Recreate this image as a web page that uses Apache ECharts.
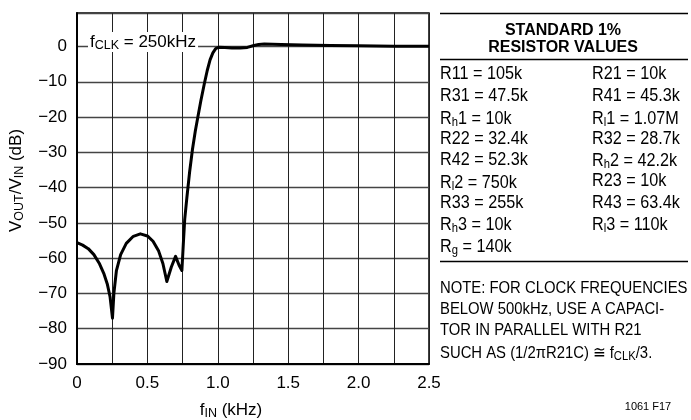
<!DOCTYPE html>
<html>
<head>
<meta charset="utf-8">
<script src="https://cdn.jsdelivr.net/npm/echarts@6/dist/echarts.min.js"></script>
<style>
html,body{margin:0;padding:0;background:#fff;}
#main{width:691px;height:420px;}
</style>
</head>
<body>
<div id="main"></div>
<script>
// ---- data ----
var freqKHz = [0, 0.04, 0.08, 0.12, 0.16, 0.19, 0.215, 0.235, 0.252, 0.262, 0.28, 0.31, 0.35, 0.40, 0.45, 0.50, 0.54, 0.58, 0.61, 0.638, 0.67, 0.70, 0.725, 0.745, 0.755, 0.765, 0.78, 0.80, 0.82, 0.84, 0.86, 0.88, 0.905, 0.925, 0.945, 0.965, 0.985, 1.005, 1.05, 1.10, 1.16, 1.21, 1.25, 1.29, 1.33, 1.45, 1.6, 1.8, 2.0, 2.25, 2.5];
var gainDB  = [-55.6, -56.3, -57.3, -59.0, -61.6, -64.3, -67.3, -71, -77, -70, -63.5, -59.0, -55.8, -53.8, -53.1, -53.7, -55.2, -58.0, -61.5, -66.6, -62.5, -59.5, -62, -63.5, -56, -49, -43, -35.5, -29.2, -24, -19.6, -15.3, -10.4, -6.8, -3.8, -1.8, -0.6, -0.2, -0.25, -0.4, -0.45, -0.25, 0.2, 0.6, 0.7, 0.6, 0.45, 0.3, 0.2, 0.1, 0.1];
var xTickLabels = {'0': '0', '0.5': '0.5', '1': '1.0', '1.5': '1.5', '2': '2.0', '2.5': '2.5'};
var yTickValues = [0, -10, -20, -30, -40, -50, -60, -70, -80, -90];
var leftCol  = ['R11 = 105k', 'R31 = 47.5k', 'R{s|h}1 = 10k', 'R22 = 32.4k', 'R42 = 52.3k', 'R{s|l}2 = 750k', 'R33 = 255k', 'R{s|h}3 = 10k', 'R{s|g} = 140k'];
var rightCol = ['R21 = 10k', 'R41 = 45.3k', 'R{s|l}1 = 1.07M', 'R32 = 28.7k', 'R{s|h}2 = 42.2k', 'R23 = 10k', 'R43 = 63.4k', 'R{s|l}3 = 110k'];
var noteLines = ['NOTE: FOR CLOCK FREQUENCIES', 'BELOW 500kHz, USE A CAPACI-', 'TOR IN PARALLEL WITH R21', 'SUCH AS (1/2\u03C0R21C) \u2245 f{s|CLK}/3.'];
var titleLines = ['STANDARD 1%', 'RESISTOR VALUES'];

var FONT = "'Liberation Sans', Arial, sans-serif";
var subStyle = {fontSize: 12.5, lineHeight: 12, padding: [10, 0, 0, 0], verticalAlign: 'bottom', fontFamily: FONT, color: '#000'};

var chart = echarts.init(document.getElementById('main'), null, {renderer: 'canvas'});

var graphics = [];
// panel lines
[13.5, 59.5, 261.5].forEach(function (yy) {
  graphics.push({type: 'line', shape: {x1: 440, y1: yy, x2: 688, y2: yy}, style: {stroke: '#000', lineWidth: 1.5}});
});
titleLines.forEach(function (t, i) {
  graphics.push({type: 'text', x: 563, y: 30.5 + i * 16.8, style: {text: t, fontFamily: FONT, fontWeight: 'bold', fontSize: 16, fill: '#000', align: 'center', verticalAlign: 'middle'}});
});
function panelText(t, x, y, fs) {
  return {type: 'text', x: x, y: y, scaleX: 0.9, style: {text: t, fontFamily: FONT, fontSize: fs, lineHeight: 20, fill: '#000', verticalAlign: 'middle', rich: {s: subStyle}}};
}
function sh(t) { return t.indexOf('{') >= 0 ? 1.5 : 0; }
leftCol.forEach(function (t, i) { graphics.push(panelText(t, 440, 74.5 + i * 21.35 + sh(t), 18)); });
rightCol.forEach(function (t, i) { graphics.push(panelText(t, 592, 74.5 + i * 21.35 + sh(t), 18)); });
noteLines.forEach(function (t, i) { graphics.push(panelText(t, 440, 288 + i * 21.3 + sh(t), 16.5)); });
graphics.push({type: 'text', x: 648, y: 407, style: {text: '1061 F17', fontFamily: FONT, fontSize: 11, fill: '#000', align: 'center', verticalAlign: 'middle'}});
// fCLK annotation
graphics.push({type: 'text', x: 88, y: 42, z: 10, style: {text: 'f{s|CLK} = 250kHz', fontFamily: FONT, fontSize: 17, lineHeight: 20, fill: '#000', verticalAlign: 'middle', backgroundColor: '#fff', padding: [0, 2, 0, 2], rich: {s: subStyle}}});

chart.setOption({
  animation: false,
  backgroundColor: '#fff',
  grid: {left: 77, right: 262, top: 13, bottom: 56, containLabel: false, outerBoundsMode: 'none', show: true, borderColor: '#000', borderWidth: 1.5, backgroundColor: 'transparent'},
  xAxis: {
    type: 'value', min: 0, max: 2.5, interval: 0.25,
    axisLine: {show: true, onZero: false, lineStyle: {color: '#000', width: 2}},
    axisTick: {show: false},
    splitLine: {show: true, lineStyle: {color: '#222', width: 1}},
    axisLabel: {margin: 11, fontFamily: FONT, fontSize: 17, color: '#000',
      formatter: function (v) { var k = String(Math.round(v * 100) / 100); return xTickLabels[k] !== undefined ? xTickLabels[k] : ''; }},
    name: 'f{s|IN} (kHz)', nameLocation: 'middle', nameGap: 34,
    nameTextStyle: {fontFamily: FONT, fontSize: 17, color: '#000', padding: [0, 44, 0, 0], lineHeight: 20, rich: {s: subStyle}}
  },
  yAxis: {
    type: 'value', min: -90, max: 9.5, interval: 10,
    axisLine: {show: true, onZero: false, lineStyle: {color: '#000', width: 2}},
    axisTick: {show: false},
    splitLine: {show: true, lineStyle: {color: '#444', width: 1.3}},
    axisLabel: {margin: 10, fontFamily: FONT, fontSize: 17, color: '#000',
      formatter: function (v) { return yTickValues.indexOf(v) >= 0 ? String(v).replace('-', '\u2212') : ''; }},
    name: 'V{s|OUT}/V{s|IN} (dB)', nameLocation: 'middle', nameRotate: 90, nameGap: 51,
    nameTextStyle: {fontFamily: FONT, fontSize: 17, color: '#000', lineHeight: 20, padding: [0, 0, 0, 16], rich: {s: subStyle}}
  },
  series: [{
    type: 'line',
    data: freqKHz.map(function (f, i) { return [f, gainDB[i]]; }),
    showSymbol: false, symbol: 'none',
    lineStyle: {color: '#000', width: 3, join: 'round'},
    z: 5
  }],
  graphic: graphics
});
</script>
</body>
</html>
